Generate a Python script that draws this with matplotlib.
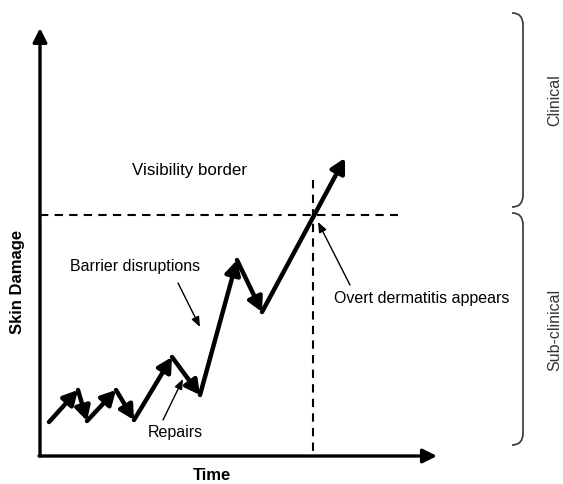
import matplotlib.pyplot as plt
from matplotlib.path import Path
from matplotlib.patches import PathPatch

plt.rcParams['font.family'] = ['Liberation Sans', 'DejaVu Sans']

# zig-zag skin damage path (pixel coords of the drawing)
path_x = [49, 78, 87, 116, 134, 172, 200, 237, 262, 345]
path_y = [422, 390, 421, 390, 420, 357, 395, 260, 312, 158]

border_y = 215
onset_x = 313

fig = plt.figure(figsize=(5.63, 4.84), dpi=100)
ax = fig.add_axes([0, 0, 1, 1])
ax.set_xlim(0, 563)
ax.set_ylim(484, 0)
ax.axis('off')

# axes with arrow heads
axis_arrow = dict(arrowstyle='-|>,head_length=0.6,head_width=0.3',
                  lw=2.4, color='black', mutation_scale=14,
                  shrinkA=0, shrinkB=0)
ax.annotate('', xy=(40, 28), xytext=(40, 456), arrowprops=axis_arrow)
ax.annotate('', xy=(437, 456), xytext=(39, 456), arrowprops=axis_arrow)

# dashed visibility border and onset line
ax.plot([40, 398], [border_y, border_y], ls=(0, (4, 3)), color='black', lw=1.5)
ax.plot([onset_x, onset_x], [180, 455], ls=(0, (4, 3)), color='black', lw=1.5)

# path segments, each ending with an arrow head
for i in range(len(path_x) - 1):
    ax.annotate('', xy=(path_x[i + 1], path_y[i + 1]), xytext=(path_x[i], path_y[i]),
                arrowprops=dict(arrowstyle='-|>,head_length=0.65,head_width=0.35',
                                lw=3.2, color='black', mutation_scale=13,
                                shrinkA=0, shrinkB=0))

# labels with thin pointer arrows
thin = dict(arrowstyle='-|>,head_length=0.5,head_width=0.2', lw=1,
            color='black', mutation_scale=12, shrinkA=0, shrinkB=0)
fs = 11.5
ax.text(190, 170, 'Visibility border', fontsize=12.2, ha='center', va='center')
ax.text(135, 266, 'Barrier disruptions', fontsize=fs, ha='center', va='center')
ax.annotate('', xy=(200, 327), xytext=(178, 283), arrowprops=thin)
ax.text(175, 432, 'Repairs', fontsize=fs, ha='center', va='center')
ax.annotate('', xy=(183, 379), xytext=(163, 420), arrowprops=thin)
ax.text(422, 299, 'Overt dermatitis appears', fontsize=fs, ha='center', va='center')
ax.annotate('', xy=(318, 222), xytext=(350, 285), arrowprops=thin)

ax.text(18, 282, 'Skin Damage', fontsize=12, fontweight='bold', rotation=90,
        ha='center', va='center')
ax.text(212, 475, 'Time', fontsize=12, fontweight='bold', ha='center', va='center')


def bracket(y0, y1, x0=512, x1=523):
    verts = [(x0, y0), (x1, y0), (x1, y0 + 12), (x1, y1 - 12), (x1, y1), (x0, y1)]
    codes = [Path.MOVETO, Path.CURVE3, Path.CURVE3, Path.LINETO, Path.CURVE3, Path.CURVE3]
    ax.add_patch(PathPatch(Path(verts, codes), fill=False, lw=1.2, color='#333333'))


bracket(13, 207)
bracket(213, 445)
ax.text(555, 100, 'Clinical', fontsize=fs, rotation=90, ha='center', va='center',
        color='#333333')
ax.text(555, 330, 'Sub-clinical', fontsize=fs, rotation=90, ha='center', va='center',
        color='#333333')

plt.savefig('out.png', dpi=100)
